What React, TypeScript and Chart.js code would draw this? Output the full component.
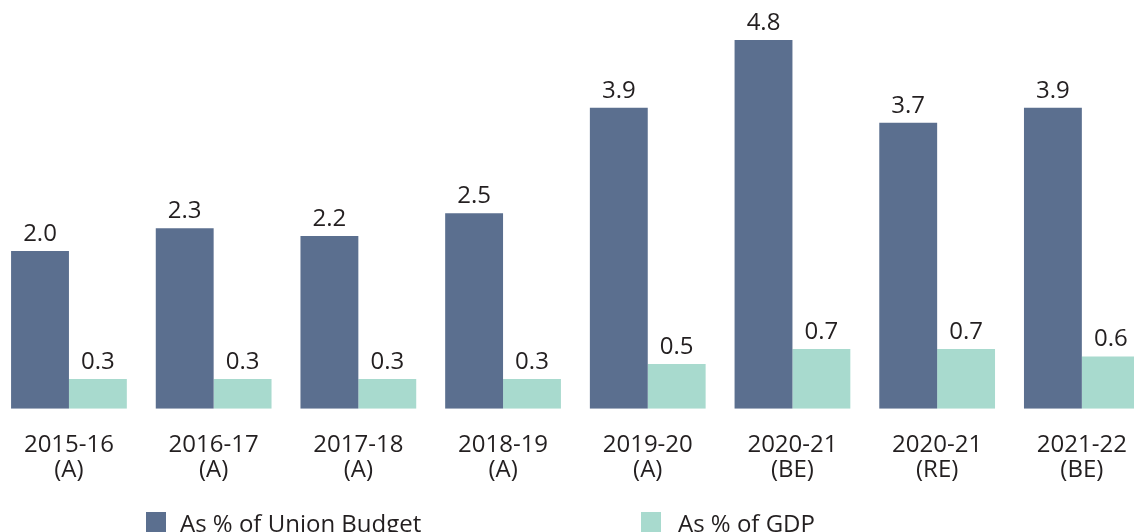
import React, { useEffect, useRef } from "react";
import { Chart, registerables } from "chart.js";

Chart.register(...registerables);

const years = ["2015-16", "2016-17", "2017-18", "2018-19", "2019-20", "2020-21", "2020-21", "2021-22"];
const yearTags = ["(A)", "(A)", "(A)", "(A)", "(A)", "(BE)", "(RE)", "(BE)"];
const budgetShare = [2.0, 2.3, 2.2, 2.5, 3.9, 4.8, 3.7, 3.9];
const gdpShare = [0.3, 0.3, 0.3, 0.3, 0.5, 0.7, 0.7, 0.6];
const seriesNames = ["As % of Union Budget", "As % of GDP"];

const DARK = "#5B6F8F";
const LIGHT = "#A8DACE";
const TEXT = "#231F20";
const FONT = "24px 'Open Sans'";

const Y_MIN = -0.093;
const Y_MAX = 5.2;

const CANVAS_LEFT = -20;
const CANVAS_W = 1200;
const CANVAS_H = 532;

const labelsPlugin = {
  id: "customLabels",
  afterDraw(chart: any) {
    const ctx = chart.ctx;
    const area = chart.chartArea;
    const xScale = chart.scales.x;
    ctx.save();
    ctx.font = FONT;
    ctx.fillStyle = TEXT;
    ctx.textAlign = "center";
    ctx.textBaseline = "alphabetic";
    // value labels
    chart.data.datasets.forEach((ds: any, di: number) => {
      const meta = chart.getDatasetMeta(di);
      meta.data.forEach((bar: any, i: number) => {
        const v = ds.data[i];
        ctx.fillText(Number(v).toFixed(1), bar.x, bar.y - 10);
      });
    });
    // category labels
    years.forEach((y, i) => {
      const x = xScale.getPixelForValue(i);
      ctx.fillText(y, x, area.bottom + 43);
      ctx.fillText(yearTags[i], x, area.bottom + 68);
    });
    // legend
    const items = [
      { box: 166, text: 200, color: DARK, label: seriesNames[0] },
      { box: 661, text: 698, color: LIGHT, label: seriesNames[1] },
    ];
    ctx.textAlign = "left";
    items.forEach((it) => {
      ctx.fillStyle = it.color;
      ctx.fillRect(it.box, 512, 20, 20);
      ctx.fillStyle = TEXT;
      ctx.fillText(it.label, it.text, 532);
    });
    ctx.restore();
  },
};

export default function App() {
  const ref = useRef<HTMLCanvasElement | null>(null);
  useEffect(() => {
    if (!ref.current) return;
    const chart = new Chart(ref.current, {
      type: "bar",
      data: {
        labels: years.map((y, i) => `${y} ${yearTags[i]}`),
        datasets: [
          {
            label: seriesNames[0],
            data: budgetShare,
            backgroundColor: DARK,
            borderWidth: 0,
            base: Y_MIN,
            categoryPercentage: 0.8,
            barPercentage: 1.0,
          } as any,
          {
            label: seriesNames[1],
            data: gdpShare,
            backgroundColor: LIGHT,
            borderWidth: 0,
            base: Y_MIN,
            categoryPercentage: 0.8,
            barPercentage: 1.0,
          } as any,
        ],
      },
      options: {
        responsive: false,
        animation: false,
        devicePixelRatio: 1,
        layout: { padding: { left: 16.6, right: 25.8, top: 9.8, bottom: 123.3 } },
        scales: {
          x: { display: false },
          y: { display: false, min: Y_MIN, max: Y_MAX },
        },
        plugins: {
          legend: { display: false },
          tooltip: { enabled: false },
          title: { display: false },
        },
      },
      plugins: [labelsPlugin],
    });
    return () => chart.destroy();
  }, []);

  return (
    <div style={{ position: "fixed", left: 0, top: 0, width: 1134, height: 532, overflow: "hidden", background: "#fff" }}>
      <canvas
        ref={ref}
        width={CANVAS_W}
        height={CANVAS_H}
        style={{ position: "absolute", left: CANVAS_LEFT, top: 0, width: CANVAS_W, height: CANVAS_H }}
      />
    </div>
  );
}
